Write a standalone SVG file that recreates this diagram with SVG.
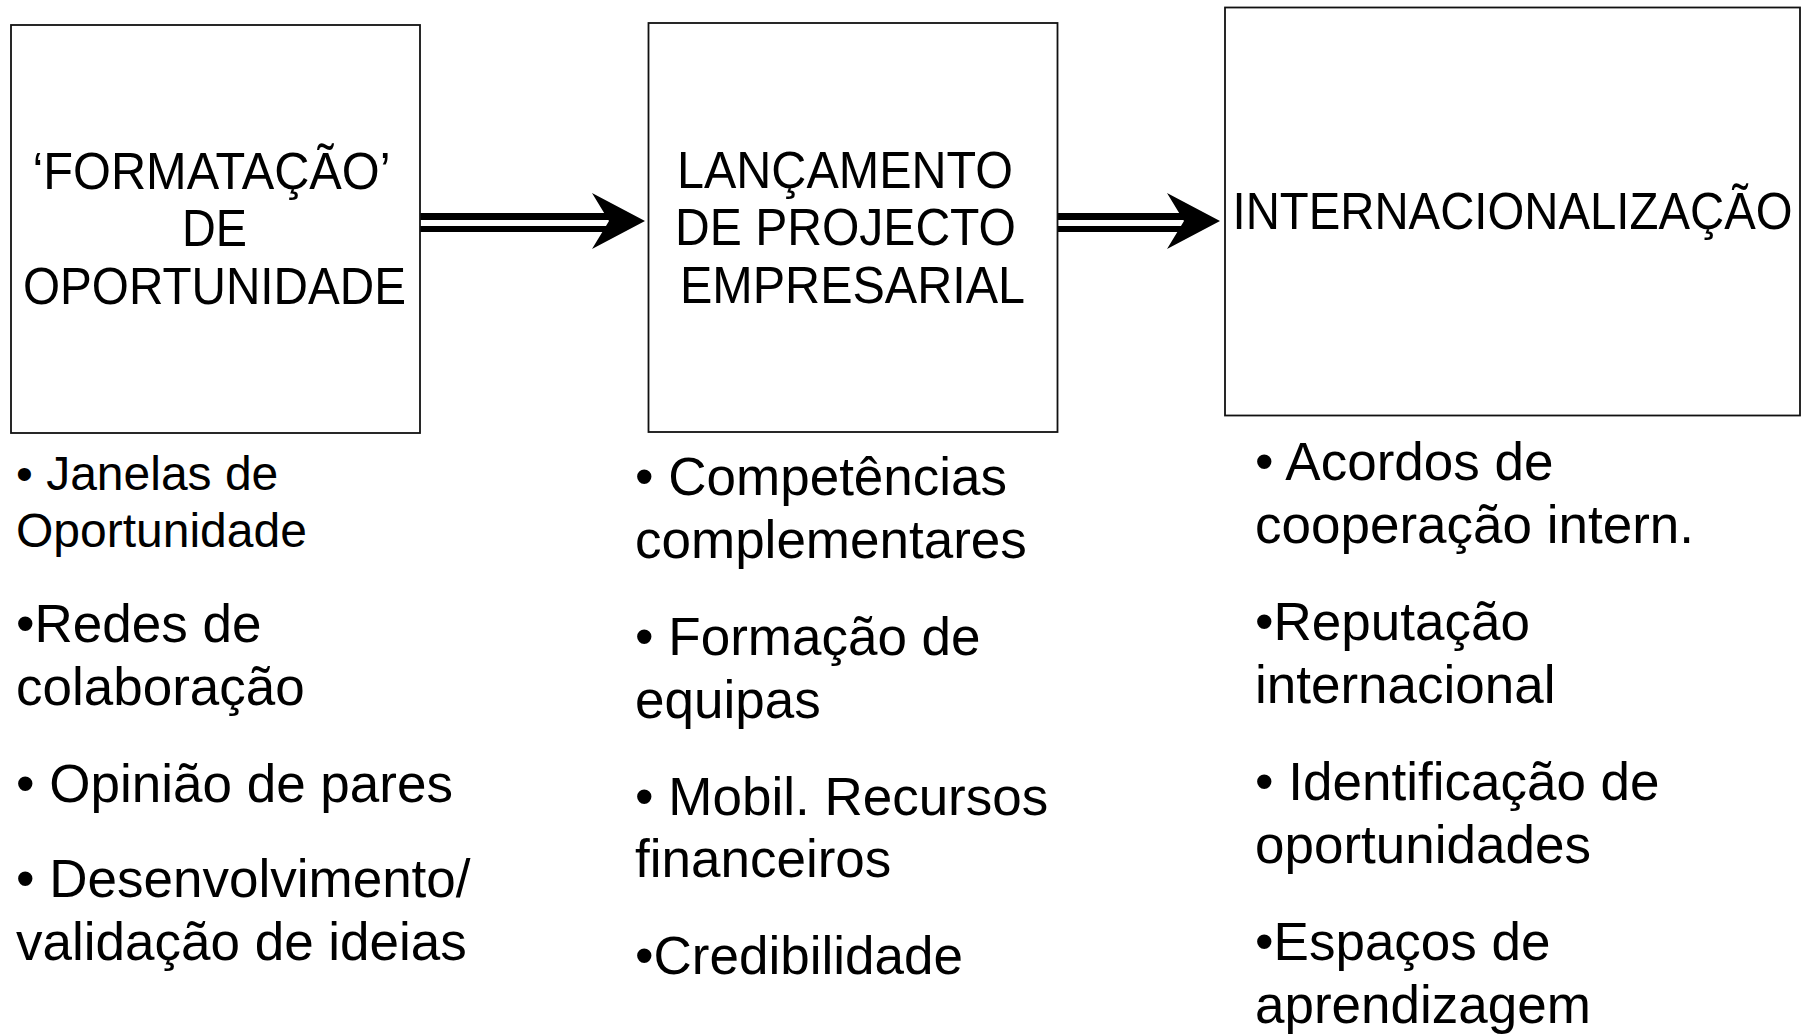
<svg xmlns="http://www.w3.org/2000/svg" width="1807" height="1034" viewBox="0 0 1807 1034">
<style>
.box{fill:#fff;stroke:#111;stroke-width:1.8}
.title{font-family:"Liberation Sans",Arial,sans-serif;font-size:51px;fill:#000;text-anchor:middle}
.item{font-family:"Liberation Sans",Arial,sans-serif;font-size:53px;fill:#000}
.small{font-size:48px}
.shaft{stroke:#000;fill:none}
.head{fill:#000}
</style>
<defs>
<g id="arrowHead"><polygon class="head" points="0,-28 53,0 0,28 17,0"/></g>
</defs>
<rect width="1807" height="1034" fill="#fff"/>
<g id="connectors">
<g id="arrow1">
<line class="shaft" x1="420" y1="216.5" x2="612" y2="216.5" stroke-width="7"/>
<line class="shaft" x1="420" y1="229" x2="612" y2="229" stroke-width="6"/>
<use href="#arrowHead" x="592" y="221"/>
</g>
<g id="arrow2">
<line class="shaft" x1="1057" y1="216.5" x2="1186" y2="216.5" stroke-width="7"/>
<line class="shaft" x1="1057" y1="229" x2="1186" y2="229" stroke-width="6"/>
<use href="#arrowHead" x="1167" y="221"/>
</g>
</g>
<g id="node-formatacao">
<rect class="box" x="11" y="25" width="409" height="408"/>
<text class="title" x="211.5" y="189" textLength="358" lengthAdjust="spacingAndGlyphs">‘FORMATAÇÃO’</text>
<text class="title" x="214.5" y="246" textLength="65" lengthAdjust="spacingAndGlyphs">DE</text>
<text class="title" x="214.5" y="304" textLength="383" lengthAdjust="spacingAndGlyphs">OPORTUNIDADE</text>
</g>
<g id="node-lancamento">
<rect class="box" x="648.5" y="23" width="409" height="409"/>
<text class="title" x="845" y="188" textLength="336" lengthAdjust="spacingAndGlyphs">LANÇAMENTO</text>
<text class="title" x="845.5" y="245" textLength="341" lengthAdjust="spacingAndGlyphs">DE PROJECTO</text>
<text class="title" x="852.5" y="303" textLength="345" lengthAdjust="spacingAndGlyphs">EMPRESARIAL</text>
</g>
<g id="node-internacionalizacao">
<rect class="box" x="1225" y="7.5" width="575" height="408"/>
<text class="title" x="1512.5" y="229" textLength="560" lengthAdjust="spacingAndGlyphs">INTERNACIONALIZAÇÃO</text>
</g>
<g id="list-formatacao">
<text class="item small" x="16" y="490">• Janelas de</text>
<text class="item small" x="16" y="547">Oportunidade</text>
<text class="item" x="16" y="642">•Redes de</text>
<text class="item" x="16" y="705">colaboração</text>
<text class="item" x="16" y="802">• Opinião de pares</text>
<text class="item" x="16" y="897">• Desenvolvimento/</text>
<text class="item" x="16" y="960">validação de ideias</text>
</g>
<g id="list-lancamento">
<text class="item" x="635" y="495">• Competências</text>
<text class="item" x="635" y="558">complementares</text>
<text class="item" x="635" y="655">• Formação de</text>
<text class="item" x="635" y="718">equipas</text>
<text class="item" x="635" y="815">• Mobil. Recursos</text>
<text class="item" x="635" y="877">financeiros</text>
<text class="item" x="635" y="974">•Credibilidade</text>
</g>
<g id="list-internacionalizacao">
<text class="item" x="1255" y="480">• Acordos de</text>
<text class="item" x="1255" y="543">cooperação intern.</text>
<text class="item" x="1255" y="640">•Reputação</text>
<text class="item" x="1255" y="703">internacional</text>
<text class="item" x="1255" y="800">• Identificação de</text>
<text class="item" x="1255" y="863">oportunidades</text>
<text class="item" x="1255" y="960">•Espaços de</text>
<text class="item" x="1255" y="1023">aprendizagem</text>
</g>
</svg>
